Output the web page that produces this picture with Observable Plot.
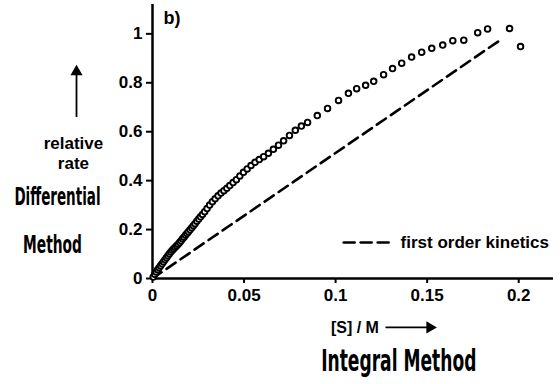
<!DOCTYPE html>
<html>
<head>
<meta charset="utf-8">
<script src="https://cdn.jsdelivr.net/npm/d3@7"></script>
<script src="https://cdn.jsdelivr.net/npm/@observablehq/plot@0.6"></script>
<style>
  html, body { margin: 0; padding: 0; background: #fff; }
  #chart svg { display: block; }
</style>
</head>
<body>
<div id="chart"></div>
<script>
// measured relative rate vs [S]
const sConc = [0.0004, 0.0012, 0.002, 0.0028, 0.0036, 0.0044, 0.0052, 0.006, 0.0068, 0.0076,
  0.0084, 0.0092, 0.01, 0.0108, 0.0116, 0.0124, 0.0132, 0.014, 0.0148, 0.0156,
  0.0164, 0.0172, 0.018, 0.0188, 0.0196, 0.0205, 0.0214, 0.0223, 0.0232, 0.0242,
  0.0252, 0.0262, 0.0273, 0.0285, 0.0298, 0.0312, 0.0327, 0.0342, 0.0358, 0.0374,
  0.039, 0.0406, 0.0422, 0.044, 0.0458, 0.0477, 0.0497, 0.0517, 0.0538, 0.056,
  0.0583, 0.0607, 0.0633, 0.066, 0.0688, 0.0716, 0.0748, 0.078, 0.0813, 0.0847,
  0.09, 0.0956, 0.1016, 0.107, 0.1115, 0.1164, 0.1208, 0.1262, 0.1311, 0.1361,
  0.1415, 0.147, 0.1525, 0.1585, 0.164, 0.170, 0.1776, 0.183, 0.195, 0.201];
const relRate = [0.006, 0.017, 0.027, 0.036, 0.044, 0.052, 0.060, 0.068, 0.077, 0.085,
  0.093, 0.101, 0.108, 0.115, 0.122, 0.128, 0.134, 0.140, 0.147, 0.154,
  0.162, 0.169, 0.177, 0.184, 0.191, 0.199, 0.207, 0.216, 0.224, 0.234,
  0.243, 0.252, 0.262, 0.273, 0.286, 0.300, 0.314, 0.326, 0.338, 0.349,
  0.359, 0.369, 0.380, 0.392, 0.404, 0.419, 0.434, 0.448, 0.462, 0.475,
  0.486, 0.498, 0.512, 0.528, 0.545, 0.563, 0.585, 0.606, 0.623, 0.638,
  0.666, 0.695, 0.728, 0.757, 0.776, 0.790, 0.806, 0.833, 0.858, 0.880,
  0.905, 0.925, 0.941, 0.954, 0.972, 0.974, 1.005, 1.020, 1.022, 0.948];

// first order kinetics reference line
const firstX = [0, 0.19];
const firstY = [0, 0.975];

// ticks
const xTicks = [0, 0.05, 0.1, 0.15, 0.2];
const yTicks = [0, 0.2, 0.4, 0.6, 0.8, 1];

// labels
const legendLabel = "first order kinetics";
const xLabel = "[S] / M";
const handX = "Integral Method";
const yLabel = "relative\nrate";
const handY1 = "Differential";
const handY2 = "Method";
const panelLabel = "b)";

// annotation anchors (data units)
const legendLineX = [0.1044, 0.130];
const legendY = 0.147;
const legendTextX = 0.1355;
const xArrow = {x1: 0.1275, x2: 0.1515, y: -0.2};
const yArrow = {x: -0.0415, y1: 0.658, y2: 0.845};

const points = sConc.map((s, i) => ({s, r: relRate[i]}));
const firstLine = firstX.map((s, i) => ({s, r: firstY[i]}));
const legendLine = legendLineX.map(s => ({s, r: legendY}));

const font = "'Liberation Sans', Arial, Helvetica, sans-serif";
const hand = "'DejaVu Sans', sans-serif";

const chart = Plot.plot({
  width: 560,
  height: 384,
  marginLeft: 152,
  marginRight: 7,
  marginTop: 4,
  marginBottom: 106,
  style: {fontFamily: font, fontSize: "17px", fontWeight: "bold", color: "#000", background: "#fff", overflow: "visible"},
  x: {domain: [0, 0.219]},
  y: {domain: [0, 1.12]},
  marks: [
    Plot.axisY({ticks: yTicks, tickFormat: d => String(d), tickSize: 6, tickPadding: 4, strokeWidth: 2, label: null, fontSize: 17}),
    Plot.axisX({ticks: xTicks, tickFormat: d => String(d), tickSize: 5, tickPadding: 5, strokeWidth: 2, label: null, fontSize: 17}),
    Plot.ruleX([0], {strokeWidth: 2.5}),
    Plot.ruleY([0], {strokeWidth: 2.5}),
    Plot.line(firstLine, {x: "s", y: "r", stroke: "#000", strokeWidth: 2.6, strokeDasharray: "11,6"}),
    Plot.dot(points, {x: "s", y: "r", r: 2.8, stroke: "#000", strokeWidth: 1.9, fill: "#fff"}),
    Plot.line(legendLine, {x: "s", y: "r", stroke: "#000", strokeWidth: 2.6, strokeDasharray: "11,6"}),
    Plot.text([legendLabel], {x: legendTextX, y: legendY, text: d => d, textAnchor: "start", fontSize: 17}),
    Plot.text([panelLabel], {frameAnchor: "top-left", text: d => d, dx: 11, dy: 7, textAnchor: "start", lineAnchor: "top", fontSize: 18}),
    Plot.text([xLabel], {x: xArrow.x1, y: xArrow.y, text: d => d, textAnchor: "end", fontSize: 16, dx: -7}),
    Plot.ruleY([xArrow], {x1: "x1", x2: "x2", y: "y", strokeWidth: 1.8, stroke: "#000"}),
    Plot.dot([xArrow], {x: "x2", y: "y", symbol: "triangle", rotate: 90, r: 4.5, fill: "#000", stroke: "none"}),
    Plot.ruleX([yArrow], {x: "x", y1: "y1", y2: "y2", strokeWidth: 1.8, stroke: "#000"}),
    Plot.dot([yArrow], {x: "x", y: "y2", symbol: "triangle", r: 4.5, fill: "#000", stroke: "none"}),
    Plot.text([yLabel], {x: -0.0432, y: 0.515, text: d => d, fontSize: 17, lineHeight: 1.15}),
    Plot.text([handX], {x: 0.1345, y: -0.38, text: d => d, fontFamily: hand, fontWeight: "bold", fontSize: 19, fill: "#000"}),
    Plot.text([handY1], {x: -0.0519, y: 0.302, text: d => d, fontFamily: hand, fontWeight: "bold", fontSize: 15, fill: "#000"}),
    Plot.text([handY2], {x: -0.0546, y: 0.106, text: d => d, fontFamily: hand, fontWeight: "bold", fontSize: 15, fill: "#000"})
  ]
});

// stretch the hand-written labels (tall, narrow lettering)
const handScale = {[handX]: [0.9, 1.55], [handY1]: [0.9, 1.7], [handY2]: [0.92, 1.7]};
d3.select(chart).selectAll("text").each(function() {
  const s = handScale[this.textContent];
  if (!s) return;
  const t = this.getAttribute("transform") || "";
  const x = +this.getAttribute("x") || 0, y = +this.getAttribute("y") || 0;
  this.removeAttribute("x"); this.removeAttribute("y");
  this.setAttribute("transform", `${t} translate(${x},${y}) scale(${s[0]},${s[1]})`);
});
document.getElementById("chart").appendChild(chart);
</script>
</body>
</html>
